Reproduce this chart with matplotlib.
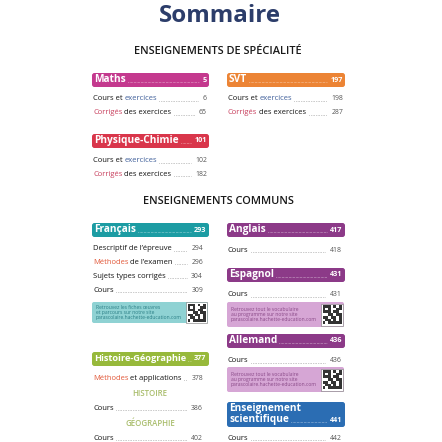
import matplotlib.pyplot as plt
from matplotlib.patches import FancyBboxPatch, Rectangle

plt.rcParams['font.family'] = ['Open Sans', 'DejaVu Sans']

# --- content -------------------------------------------------------------
title = "Sommaire"
heading_spe = "ENSEIGNEMENTS DE SPÉCIALITÉ"
heading_com = "ENSEIGNEMENTS COMMUNS"

subjects = ["Maths", "SVT", "Physique-Chimie", "Français", "Anglais",
            "Espagnol", "Allemand", "Histoire-Géographie",
            "Enseignement\nscientifique"]
subject_pages = [5, 197, 101, 293, 417, 431, 436, 377, 441]
subject_colors = ["#c4398e", "#ec8435", "#d9364b", "#1c9ca3", "#8c3a88",
                  "#8c3a88", "#8c3a88", "#97b93b", "#2b6db3"]

maths_entries = [[("Cours et ", "k"), ("exercices", "b")],
                 [("Corrigés", "r"), (" des exercices", "k")]]
maths_pages = [6, 65]
svt_entries = maths_entries
svt_pages = [198, 287]
pc_entries = maths_entries
pc_pages = [102, 182]
fr_entries = [[("Descriptif de l’épreuve", "k")],
              [("Méthodes", "o"), (" de l’examen", "k")],
              [("Sujets types corrigés", "k")],
              [("Cours", "k")]]
fr_pages = [294, 296, 304, 309]
hg_entries = [[("Méthodes", "o"), (" et applications", "k")]]
hg_pages = [378]
hist_pages = [386]
geo_pages = [402]
ang_pages = [418]
esp_pages = [431]
all_pages = [436]
es_pages = [442]

info_fr = "Retrouvez les fiches œuvres\net parcours sur notre site\nparascolaire.hachette-education.com"
info_lang = "Retrouvez tout le vocabulaire\nau programme sur notre site\nparascolaire.hachette-education.com"

qr_pattern = ["1110101",
              "1010011",
              "1110110",
              "0011011",
              "1101101",
              "0110101",
              "1011111"]

text_colors = {"k": "#141414", "b": "#3f5f9a", "r": "#c8405e", "o": "#e2593a"}

# --- canvas in pixel coordinates ----------------------------------------
W = H = 442
fig = plt.figure(figsize=(4.42, 4.42), dpi=100)
ax = fig.add_axes([0, 0, 1, 1])
ax.set_xlim(0, W)
ax.set_ylim(H, 0)
ax.axis('off')
renderer = fig.canvas.get_renderer()
inv = ax.transData.inverted()


def fit_size(s, width_px, weight='normal'):
    # font size that makes s about width_px wide (widths)
    t = ax.text(0, 0, s, fontsize=10, fontweight=weight)
    w = t.get_window_extent(renderer).width
    t.remove()
    return 10 * width_px / w


TITLE_SIZE = fit_size(title, 122, 'bold')
HEAD_SIZE = fit_size(heading_spe, 169, 'semibold')
SPE_SIZE = fit_size("Cours et exercices", 65)
COM_SIZE = fit_size("Descriptif de l’épreuve", 80)
BAR_SIZE = fit_size("Physique-Chimie", 84, 'bold')
NUM_SIZE = 5.2
SUB_SIZE = fit_size("GÉOGRAPHIE", 50, 'semibold')
INFO_SIZE = fit_size("parascolaire.hachette-education.com", 86)


def right_edge(t):
    bb = t.get_window_extent(renderer)
    return inv.transform((bb.x1, bb.y0))[0]


def leader(x0, x1, y, color, lw=0.6):
    if x1 > x0:
        ax.plot([x0, x1], [y, y], color=color, lw=lw,
                linestyle=(0, (0.6, 1.4)), solid_capstyle='round')


def entry(x0, x1, y, parts, page, size):
    x = x0
    for s, c in parts:
        t = ax.text(x, y, s, fontsize=size, color=text_colors[c],
                    va='center', ha='left')
        x = right_edge(t)
    tn = ax.text(x1, y, str(page), fontsize=size * 0.9, color="#555555",
                 va='center', ha='right')
    bb = tn.get_window_extent(renderer)
    xn = inv.transform((bb.x0, bb.y0))[0]
    leader(x + 2, xn - 4, y + size * 0.28, "#888888")


def bar(i, x0, x1, y0, h=14):
    color = subject_colors[i]
    ax.add_patch(FancyBboxPatch((x0, y0), x1 - x0, h,
                                boxstyle="round,pad=0,rounding_size=2.5",
                                fc=color, ec='none'))
    lines = subjects[i].split("\n")
    # long labels are shrunk so that the page number still fits
    size = min(BAR_SIZE, fit_size(max(lines, key=len), x1 - x0 - 24, 'bold'))
    ly = y0 + h - 7
    for k, line in enumerate(lines):
        t = ax.text(x0 + 2, y0 + 6.8 + 11 * k, line, fontsize=size,
                    fontweight='bold', color='white', va='center', ha='left')
    xe = right_edge(t)
    tn = ax.text(x1 - 2.5, ly, str(subject_pages[i]), fontsize=NUM_SIZE,
                 fontweight='bold', color='white', va='center', ha='right')
    bb = tn.get_window_extent(renderer)
    xn = inv.transform((bb.x0, bb.y0))[0]
    leader(xe + 2, xn - 3, ly + 2, "white", lw=0.5)


def info_box(x0, x1, y0, y1, fc, tc, text):
    ax.add_patch(FancyBboxPatch((x0, y0), x1 - x0, y1 - y0,
                                boxstyle="round,pad=0,rounding_size=2",
                                fc=fc, ec='none'))
    ax.text(x0 + 4, (y0 + y1) / 2, text, fontsize=INFO_SIZE, color=tc,
            va='center', ha='left', linespacing=1.1)
    s = min(y1 - y0, 22)
    qx, qy = x1 - s - 1, (y0 + y1) / 2 - s / 2
    ax.add_patch(Rectangle((qx, qy), s, s, fc='white', ec='#777777', lw=0.4))
    n = len(qr_pattern)
    c = (s - 3) / n
    for r, row in enumerate(qr_pattern):
        for q, v in enumerate(row):
            if v == "1":
                ax.add_patch(Rectangle((qx + 1.5 + q * c, qy + 1.5 + r * c),
                                       c, c, fc='#333333', ec='none'))


# --- title & headings ---------------------------------------------------
ax.text(220, 16, title, fontsize=TITLE_SIZE, fontweight='bold',
        color="#2c3d6a", ha='center', va='center')
ax.text(218, 52, heading_spe, fontsize=HEAD_SIZE, fontweight='semibold',
        color="#1a1a1a", ha='center', va='center')
ax.text(218, 201, heading_com, fontsize=HEAD_SIZE, fontweight='semibold',
        color="#1a1a1a", ha='center', va='center')

L0, L1 = 92, 209
R0, R1 = 227, 345

# spécialité
bar(0, L0, L1, 73)
for k, (p, pg) in enumerate(zip(maths_entries, maths_pages)):
    entry(L0 + 1, 207, 99 + 14 * k, p, pg, SPE_SIZE)
bar(1, R0, R1, 73)
for k, (p, pg) in enumerate(zip(svt_entries, svt_pages)):
    entry(R0 + 1, 343, 99 + 14 * k, p, pg, SPE_SIZE)
bar(2, L0, L1, 134)
for k, (p, pg) in enumerate(zip(pc_entries, pc_pages)):
    entry(L0 + 1, 207, 161 + 13.5 * k, p, pg, SPE_SIZE)

# communs - left column
bar(3, L0, L1, 223)
for k, (p, pg) in enumerate(zip(fr_entries, fr_pages)):
    entry(L0 + 1, 203, 249 + 13.8 * k, p, pg, COM_SIZE)
info_box(L0, L1 - 1, 302, 323, "#8fd2d3", "#2b7f86", info_fr)

bar(7, L0, L1, 352)
entry(L0 + 1, 203, 378, hg_entries[0], hg_pages[0], COM_SIZE)
ax.text(150, 393, "HISTOIRE", fontsize=SUB_SIZE, fontweight='semibold',
        color="#a9bd6c", ha='center', va='center')
entry(L0 + 1, 203, 408, [("Cours", "k")], hist_pages[0], COM_SIZE)
ax.text(150, 424, "GÉOGRAPHIE", fontsize=SUB_SIZE, fontweight='semibold',
        color="#a9bd6c", ha='center', va='center')
entry(L0 + 1, 203, 438, [("Cours", "k")], geo_pages[0], COM_SIZE)

# communs - right column
bar(4, R0, R1, 223)
entry(R0 + 1, 342, 250, [("Cours", "k")], ang_pages[0], COM_SIZE)
bar(5, R0, R1, 268)
entry(R0 + 1, 342, 295, [("Cours", "k")], esp_pages[0], COM_SIZE)
info_box(R0, R1 - 1, 302, 327, "#d6a6d5", "#8a4a88", info_lang)
bar(6, R0, R1, 334)
entry(R0 + 1, 342, 361, [("Cours", "k")], all_pages[0], COM_SIZE)
info_box(R0, R1 - 1, 367, 392, "#d6a6d5", "#8a4a88", info_lang)
bar(8, R0, R1, 402, h=25)
entry(R0 + 1, 342, 438, [("Cours", "k")], es_pages[0], COM_SIZE)

fig.savefig("out.png", dpi=100)
